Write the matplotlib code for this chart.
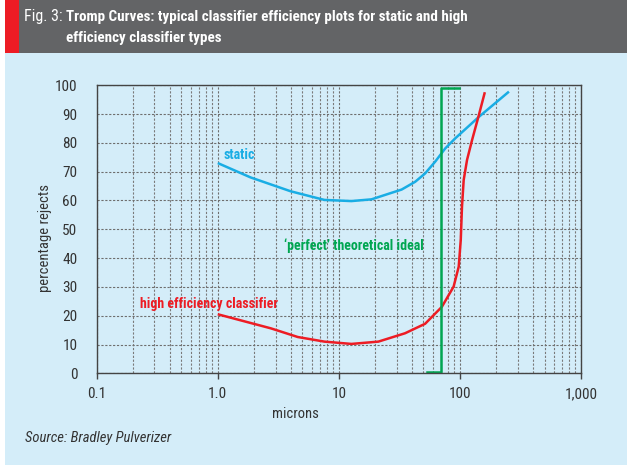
import matplotlib
matplotlib.use('Agg')
import matplotlib.pyplot as plt
from matplotlib.patches import Rectangle
from matplotlib.ticker import FixedLocator, FixedFormatter, NullFormatter

plt.rcParams['font.family'] = ['Roboto Condensed', 'DejaVu Sans']

W, H = 627, 465

# data
static_x = [1.0, 1.87, 4.0, 7.6, 12.7, 18.6, 25.6, 33, 42.7, 51.6, 62.5, 75.7, 91.6, 143, 254]
static_y = [73.0, 68.0, 63.2, 60.2, 59.8, 60.4, 62.3, 63.8, 66.5, 69.4, 73.5, 78.1, 81.6, 89.0, 97.8]

hec_x = [1.0, 2.75, 4.58, 7.6, 12.7, 21.2, 35.2, 51.6, 71, 88.7, 97.7, 101.6, 104, 107.4, 114.5, 126, 143, 160.6]
hec_y = [20.5, 15.6, 12.6, 11.0, 10.2, 11.0, 13.9, 17.2, 23.1, 30.1, 37.0, 46.3, 57.8, 67.1, 74.1, 81.0, 89.5, 97.6]

ideal_x = [53, 70, 70, 99]
ideal_y = [0.5, 0.5, 99, 99]

x_ticks = [0.1, 1.0, 10, 100, 1000]
x_labels = ['0.1', '1.0', '10', '100', '1,000']
y_ticks = list(range(0, 101, 10))

LIGHT = '#d4edf9'
BAR = '#636466'
RED = '#ed1c24'
BLUE = '#19ade4'
GREEN = '#00a651'
TXT = '#333333'

fig = plt.figure(figsize=(W / 100, H / 100), dpi=100, facecolor='white')

def fx(px):
    return px / W

def fy(py):
    return 1 - py / H

# panel background + title bar
for x0, y0, w, h, c in [(5, 52.7, W - 5, H - 52.7, LIGHT),
                        (19, 0, W - 19, 52.7, BAR),
                        (5, 0, 14, 52.7, RED)]:
    fig.patches.append(Rectangle((fx(x0), fy(y0 + h)), w / W, h / H, transform=fig.transFigure,
                                 facecolor=c, edgecolor='none', zorder=-10))

fig.text(fx(24), fy(17), 'Fig. 3:', color='white', fontsize=11.5, va='center')
fig.text(fx(66), fy(17), 'Tromp Curves: typical classifier efficiency plots for static and high',
         color='white', fontsize=10.8, fontweight='bold', va='center')
fig.text(fx(66), fy(38), 'efficiency classifier types',
         color='white', fontsize=10.8, fontweight='bold', va='center')

ax = fig.add_axes([fx(96.7), fy(373.3), (581 - 96.7) / W, (373.3 - 85.3) / H])
ax.set_facecolor('none')
ax.set_xscale('log')
ax.set_xlim(0.1, 1000)
ax.set_ylim(0, 100)

ax.xaxis.set_major_locator(FixedLocator(x_ticks))
ax.xaxis.set_major_formatter(FixedFormatter(x_labels))
ax.xaxis.set_minor_formatter(NullFormatter())
ax.set_yticks(y_ticks)

ax.grid(True, which='major', axis='both', color='#6e6e6e', linestyle=(0, (2, 1.5)), linewidth=0.8)
ax.grid(True, which='minor', axis='x', color='#7a7a7a', linestyle=(0, (2, 1.5)), linewidth=0.8)
ax.tick_params(axis='x', which='major', direction='out', length=4, width=1, color='#444444',
               labelsize=11, labelcolor=TXT, pad=6)
ax.tick_params(axis='x', which='minor', length=0)
ax.tick_params(axis='y', length=0, labelsize=11, labelcolor=TXT, pad=14)
for s in ax.spines.values():
    s.set_color('#444444')
    s.set_linewidth(1)

ax.plot(static_x, static_y, color=BLUE, linewidth=1.8, solid_capstyle='butt')
ax.plot(hec_x, hec_y, color=RED, linewidth=1.8, solid_capstyle='butt')
ax.plot(ideal_x, ideal_y, color=GREEN, linewidth=1.8, solid_joinstyle='round')

ax.text(1.11, 75.8, 'static', color=BLUE, fontsize=10, fontweight='bold', va='center')
ax.text(0.226, 24, 'high efficiency classifier', color=RED, fontsize=10, fontweight='bold', va='center')
ax.text(3.55, 44.3, '\u2018perfect\u2019 theoretical ideal', color=GREEN, fontsize=10,
        fontweight='bold', va='center')

fig.text(fx(45), fy(238), 'percentage rejects', rotation=90, color=TXT, fontsize=10.5,
         ha='center', va='center')
fig.text(fx(295), fy(414), 'microns', color=TXT, fontsize=10.5, ha='center', va='center')
fig.text(fx(25), fy(438), 'Source: Bradley Pulverizer', color=TXT, fontsize=10.5,
         style='italic', va='center')

fig.savefig('out.png', dpi=100, facecolor=fig.get_facecolor())
